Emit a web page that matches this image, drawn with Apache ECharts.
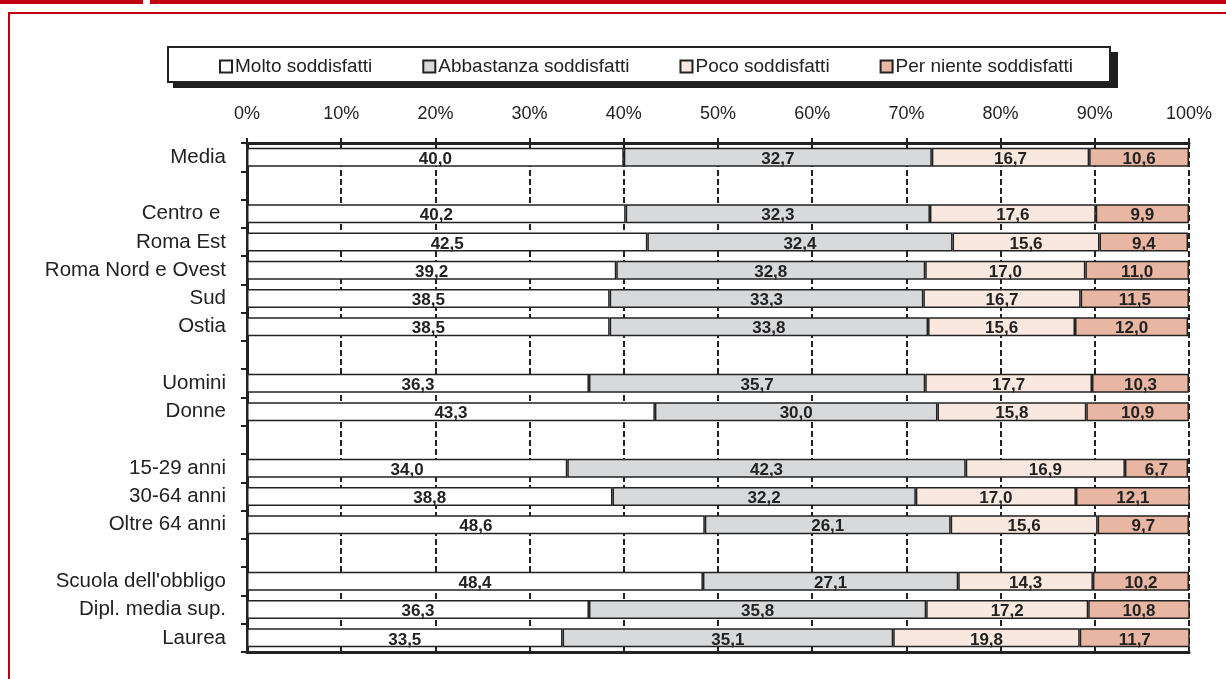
<!DOCTYPE html>
<html>
<head>
<meta charset="utf-8">
<script src="https://cdn.jsdelivr.net/npm/echarts@6/dist/echarts.min.js"></script>
<style>
  html, body { margin: 0; padding: 0; background: #fff; }
  #main { width: 1226px; height: 679px; }
</style>
</head>
<body>
<div id="main"></div>
<script>
  // categorie (le righe vuote separano i gruppi)
  var categories = ['Media', '', 'Centro e ', 'Roma Est', 'Roma Nord e Ovest', 'Sud', 'Ostia', '',
    'Uomini', 'Donne', '', '15-29 anni', '30-64 anni', 'Oltre 64 anni', '',
    "Scuola dell'obbligo", 'Dipl. media sup.', 'Laurea'];

  var molto = [40.0, null, 40.2, 42.5, 39.2, 38.5, 38.5, null, 36.3, 43.3, null, 34.0, 38.8, 48.6, null, 48.4, 36.3, 33.5];
  var abbastanza = [32.7, null, 32.3, 32.4, 32.8, 33.3, 33.8, null, 35.7, 30.0, null, 42.3, 32.2, 26.1, null, 27.1, 35.8, 35.1];
  var poco = [16.7, null, 17.6, 15.6, 17.0, 16.7, 15.6, null, 17.7, 15.8, null, 16.9, 17.0, 15.6, null, 14.3, 17.2, 19.8];
  var perNiente = [10.6, null, 9.9, 9.4, 11.0, 11.5, 12.0, null, 10.3, 10.9, null, 6.7, 12.1, 9.7, null, 10.2, 10.8, 11.7];

  var seriesNames = ['Molto soddisfatti', 'Abbastanza soddisfatti', 'Poco soddisfatti', 'Per niente soddisfatti'];
  var seriesColors = ['#ffffff', '#d8d9db', '#f8e8df', '#e8b6a2'];
  var seriesData = [molto, abbastanza, poco, perNiente];

  var FONT = '"Liberation Sans", Arial, Helvetica, sans-serif';
  var RED = '#c0000f';

  var myChart = echarts.init(document.getElementById('main'));

  var series = seriesNames.map(function (name, i) {
    return {
      name: name,
      type: 'bar',
      stack: 'tot',
      barWidth: 19,
      xAxisIndex: 0,
      itemStyle: {
        color: seriesColors[i],
        borderColor: '#222',
        borderWidth: 1.5
      },
      label: {
        show: true,
        position: 'inside',
        offset: [0, 2],
        color: '#222',
        fontFamily: FONT,
        fontWeight: 'bold',
        fontSize: 17,
        formatter: function (p) {
          return p.value == null ? '' : p.value.toFixed(1).replace('.', ',');
        }
      },
      emphasis: { disabled: true },
      data: seriesData[i]
    };
  });

  myChart.setOption({
    animation: false,
    backgroundColor: '#fff',
    textStyle: { fontFamily: FONT },
    graphic: [
      { type: 'rect', z: 0, shape: { x: 0, y: 0, width: 143, height: 4 }, style: { fill: RED } },
      { type: 'rect', z: 0, shape: { x: 150, y: 0, width: 1100, height: 4 }, style: { fill: RED } },
      { type: 'rect', z: 0, shape: { x: 9, y: 13, width: 1400, height: 900 }, style: { fill: null, stroke: RED, lineWidth: 2 } },
      // cornice della legenda con ombra
      { type: 'rect', z: 0, shape: { x: 173, y: 52, width: 945, height: 36 }, style: { fill: '#1e1e1e' } },
      { type: 'rect', z: 1, shape: { x: 168, y: 47, width: 942, height: 35 }, style: { fill: '#fff', stroke: '#222', lineWidth: 2 } }
    ],
    legend: {
      z: 10,
      left: 219,
      top: 57,
      itemWidth: 12,
      itemHeight: 12,
      itemGap: 50,
      padding: 0,
      icon: 'rect',
      selectedMode: false,
      textStyle: { fontFamily: FONT, fontSize: 19, color: '#222', padding: [0, 0, 0, -2] },
      itemStyle: { borderColor: '#222', borderWidth: 2 },
      data: seriesNames
    },
    grid: {
      left: 247,
      right: 37,
      top: 143,
      bottom: 27
    },
    xAxis: [{
      type: 'value',
      position: 'top',
      min: 0,
      max: 100,
      interval: 10,
      axisLine: { show: true, lineStyle: { color: '#222', width: 3 } },
      axisTick: { show: true, length: 5, lineStyle: { color: '#222', width: 2 } },
      axisLabel: {
        formatter: '{value}%',
        fontFamily: FONT,
        fontSize: 18,
        color: '#222',
        margin: 20
      },
      splitLine: { show: true, lineStyle: { color: '#222', width: 2, type: [6, 3] } }
    }, {
      type: 'value',
      position: 'bottom',
      min: 0,
      max: 100,
      interval: 10,
      axisLine: { show: true, onZero: false, lineStyle: { color: '#222', width: 3 } },
      axisTick: { show: false },
      axisLabel: { show: false },
      splitLine: { show: false }
    }],
    yAxis: {
      type: 'category',
      inverse: true,
      data: categories,
      axisLine: { show: true, lineStyle: { color: '#222', width: 3 } },
      axisTick: { show: true, length: 6, interval: 0, lineStyle: { color: '#222', width: 2 } },
      axisLabel: {
        interval: 0,
        fontFamily: FONT,
        fontSize: 20.5,
        color: '#222',
        margin: 21
      }
    },
    series: series
  });

  window.onresize = function () {
    myChart.resize();
  };
</script>
</body>
</html>
